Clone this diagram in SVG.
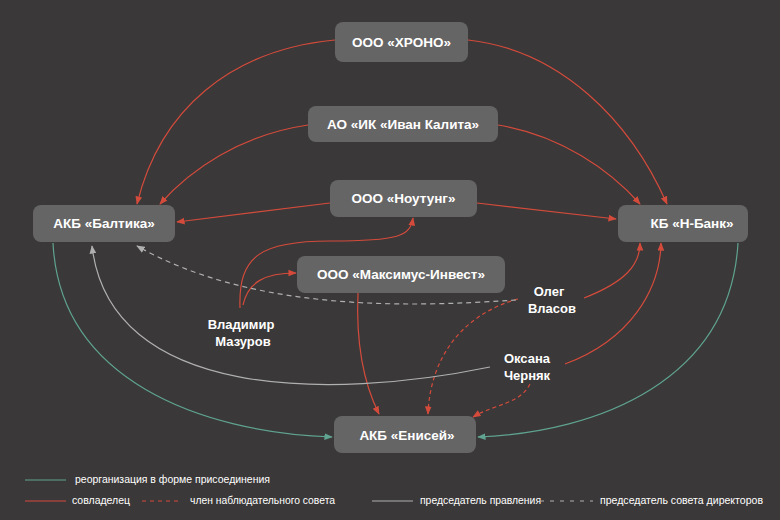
<svg xmlns="http://www.w3.org/2000/svg" width="780" height="520" viewBox="0 0 780 520">
<defs>
<marker id="ar" viewBox="0 0 10 10" refX="9" refY="5" markerWidth="7" markerHeight="7" orient="auto-start-reverse"><path d="M0,1 L10,5 L0,9 z" fill="#d44b3c"/></marker>
<marker id="at" viewBox="0 0 10 10" refX="9" refY="5" markerWidth="7" markerHeight="7" orient="auto"><path d="M0,1 L10,5 L0,9 z" fill="#5fa390"/></marker>
<marker id="ag" viewBox="0 0 10 10" refX="9" refY="5" markerWidth="7" markerHeight="7" orient="auto"><path d="M0,1 L10,5 L0,9 z" fill="#b0b0b0"/></marker>
</defs>
<style>
.n rect{fill:#666565}
.n text{fill:#fff;font-family:"Liberation Sans",Arial,sans-serif;font-weight:bold;font-size:13.5px;text-anchor:middle}
.p{fill:#fff;font-family:"Liberation Sans",Arial,sans-serif;font-weight:bold;font-size:13px;text-anchor:middle}
.c path{fill:none;stroke-width:1.2}
.r{stroke:#d44b3c;marker-end:url(#ar)}
.rd{stroke:#d44b3c;stroke-dasharray:4 3;marker-end:url(#ar)}
.t{stroke:#5fa390;marker-end:url(#at)}
.g{stroke:#b0b0b0;marker-end:url(#ag)}
.gd{stroke:#b0b0b0;stroke-dasharray:5 4;marker-end:url(#ag)}
.l{fill:#fff;font-family:"Liberation Sans",Arial,sans-serif;font-size:10px}
</style>
<rect width="780" height="520" fill="#3a3838"/>
<g class="c" id="connectors">
<path class="r" d="M335,40 C230,50 160,110 137,204"/>
<path class="r" d="M468,40 C560,50 630,120 667,204"/>
<path class="r" d="M308,125 C240,135 190,170 160,204"/>
<path class="r" d="M498,125 C560,135 610,170 640,204"/>
<path class="r" d="M330,203 L177,222"/>
<path class="r" d="M477,203 L616,219"/>
<path class="r" d="M240,308 C238,255 262,241 330,241 C400,241 410,236 413,218"/>
<path class="r" d="M243,305 C248,282 265,273 296,273"/>
<path class="r" d="M358,293 C356,340 362,380 379,414"/>
<path class="rd" d="M518,299 C460,315 430,360 428,414"/>
<path class="r" d="M584,298 C625,282 640,265 640,243"/>
<path class="gd" d="M516,300 C400,308 250,310 137,246"/>
<path class="r" d="M565,364 C630,340 660,290 661,243"/>
<path class="rd" d="M530,384 C520,404 495,404 473,417"/>
<path class="g" d="M490,367 C330,400 110,400 92,246"/>
<path class="t" d="M53,243 C60,380 200,432 332,437"/>
<path class="t" d="M738,243 C730,380 600,432 478,437"/>
</g>
<g class="n" id="n-hrono"><rect x="335" y="22" width="133" height="40" rx="8"/><text x="401.5" y="47">ООО «ХРОНО»</text></g>
<g class="n" id="n-kalita"><rect x="308" y="106" width="190" height="36" rx="8"/><text x="403" y="129">АО «ИК «Иван Калита»</text></g>
<g class="n" id="n-noutung"><rect x="330" y="180" width="147" height="37" rx="8"/><text x="403.5" y="203">ООО «Ноутунг»</text></g>
<g class="n" id="n-baltika"><rect x="33" y="205" width="142" height="37" rx="8"/><text x="104" y="228">АКБ «Балтика»</text></g>
<g class="n" id="n-nbank"><rect x="618" y="205" width="130" height="37" rx="8"/><text x="692" y="228">КБ «Н-Банк»</text></g>
<g class="n" id="n-maximus"><rect x="297" y="256" width="208" height="37" rx="8"/><text x="401" y="279">ООО «Максимус-Инвест»</text></g>
<g class="n" id="n-enisey"><rect x="334" y="416" width="142" height="37" rx="8"/><text x="407" y="440">АКБ «Енисей»</text></g>
<g id="p-mazurov"><text class="p" x="241" y="329">Владимир</text><text class="p" x="243" y="346">Мазуров</text></g>
<g id="p-vlasov"><text class="p" x="549" y="296">Олег</text><text class="p" x="552" y="313">Власов</text></g>
<g id="p-chernyak"><text class="p" x="527" y="363">Оксана</text><text class="p" x="527" y="380">Черняк</text></g>
<g id="legend">
<line x1="25" y1="480" x2="66" y2="480" stroke="#5fa390"/>
<text class="l" x="75" y="483" textLength="195" lengthAdjust="spacingAndGlyphs">реорганизация в форме присоединения</text>
<line x1="25" y1="501" x2="66" y2="501" stroke="#d44b3c"/>
<text class="l" x="72" y="504" textLength="58" lengthAdjust="spacingAndGlyphs">совладелец</text>
<line x1="142" y1="501" x2="182" y2="501" stroke="#d44b3c" stroke-dasharray="4 4"/>
<text class="l" x="190" y="504" textLength="145" lengthAdjust="spacingAndGlyphs">член наблюдательного совета</text>
<line x1="372" y1="501" x2="413" y2="501" stroke="#b0b0b0"/>
<text class="l" x="420" y="504" textLength="121" lengthAdjust="spacingAndGlyphs">председатель правления</text>
<line x1="540" y1="501" x2="593" y2="501" stroke="#b0b0b0" stroke-dasharray="4 6"/>
<text class="l" x="600" y="504" textLength="163" lengthAdjust="spacingAndGlyphs">председатель совета директоров</text>
</g>
</svg>
